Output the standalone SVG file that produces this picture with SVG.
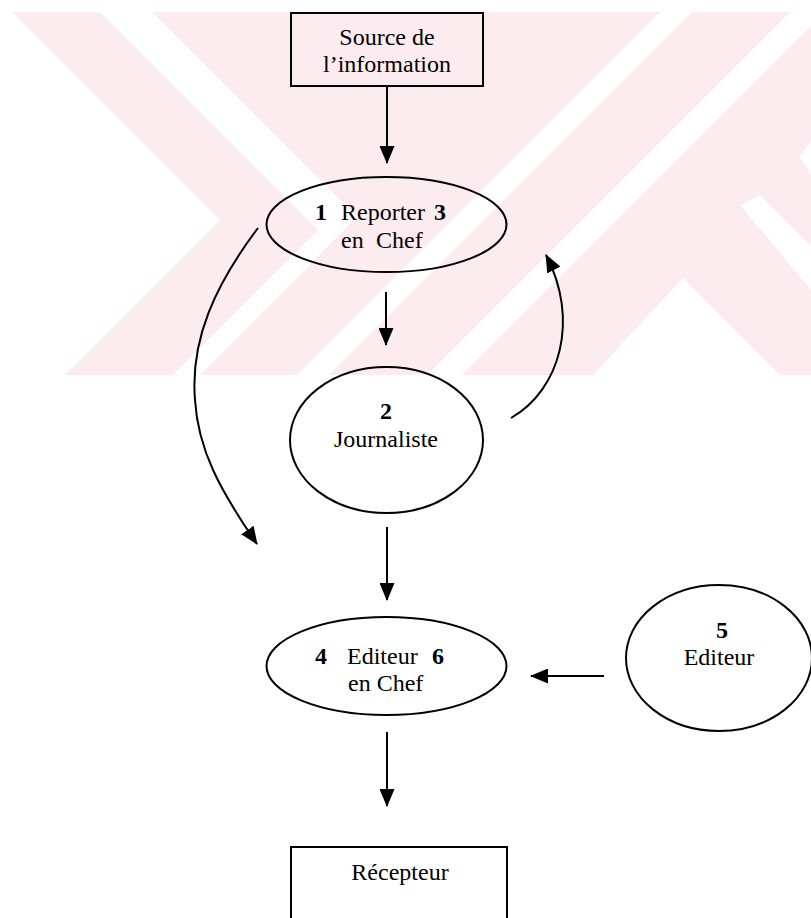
<svg xmlns="http://www.w3.org/2000/svg" width="811" height="918" viewBox="0 0 811 918">
  <defs>
    <marker id="arr" markerUnits="userSpaceOnUse" markerWidth="18" markerHeight="15" refX="17" refY="7.5" orient="auto">
      <path d="M0,0 L18,7.5 L0,15 z" fill="#000"/>
    </marker>
    <style>
      .shape { fill: none; stroke: #000; stroke-width: 2; }
      .conn { fill: none; stroke: #000; stroke-width: 2; marker-end: url(#arr); }
      .t { font-family: "Liberation Serif", "Times New Roman", serif; font-size: 24px; fill: #000; }
      .b { font-weight: bold; }
      .c { text-anchor: middle; }
      .wm { fill: #fdecef; }
      .wh { fill: #ffffff; }
    </style>
  </defs>
  <rect x="0" y="0" width="811" height="918" fill="#ffffff"/>
  <g id="watermark">
    <rect class="wm" x="0" y="12" width="811" height="363"/>
    <polygon class="wh" points="0,12 12,12 220,220 65,375 0,375"/>
    <polygon class="wh" points="100,12 152,12 357,217 200,375 173,375 318,230"/>
    <polygon class="wh" points="660,12 692,12 329,375 297,375"/>
    <polygon class="wh" points="811,12 811,26 462,375 427,375 790,12"/>
    <polygon class="wh" points="593,375 683,278 780,375"/>
    <polygon class="wh" points="740,205 760,195 811,246 811,290"/>
    <polygon class="wh" points="811,140 800,157 811,175"/>
  </g>
  <g id="connectors">
    <line class="conn" x1="387" y1="87" x2="387" y2="163"/>
    <line class="conn" x1="386" y1="292" x2="386" y2="345"/>
    <line class="conn" x1="387" y1="527" x2="387" y2="600"/>
    <line class="conn" x1="604" y1="676" x2="531" y2="676"/>
    <line class="conn" x1="387" y1="732" x2="387" y2="806"/>
    <path class="conn" d="M258,228 C215,285 190,340 195,400 C198,450 220,490 257,544"/>
    <path class="conn" d="M511,418 C560,390 580,320 546,255"/>
  </g>
  <g id="source">
    <rect class="shape" x="291" y="13" width="192" height="73"/>
    <text class="t c" x="387" y="45">Source de</text>
    <text class="t c" x="387" y="72">l’information</text>
  </g>
  <g id="reporter">
    <ellipse class="shape" cx="386.5" cy="224.5" rx="120" ry="47.5"/>
    <text class="t b" x="315" y="220">1</text>
    <text class="t" x="341" y="220">Reporter</text>
    <text class="t b" x="434" y="220">3</text>
    <text class="t" x="341" y="248">en</text>
    <text class="t" x="376" y="248">Chef</text>
  </g>
  <g id="journaliste">
    <ellipse class="shape" cx="386.5" cy="440" rx="96.5" ry="73"/>
    <text class="t b c" x="386" y="419">2</text>
    <text class="t c" x="386" y="447">Journaliste</text>
  </g>
  <g id="editeur-chef">
    <ellipse class="shape" cx="386.5" cy="666" rx="120" ry="49"/>
    <text class="t b" x="315" y="664">4</text>
    <text class="t" x="347" y="664">Editeur</text>
    <text class="t b" x="432" y="664">6</text>
    <text class="t" x="348" y="691">en Chef</text>
  </g>
  <g id="editeur">
    <ellipse class="shape" cx="719" cy="658" rx="93" ry="73"/>
    <text class="t b c" x="722" y="638">5</text>
    <text class="t c" x="719" y="665">Editeur</text>
  </g>
  <g id="recepteur">
    <rect class="shape" x="291" y="847" width="216" height="100"/>
    <text class="t c" x="400" y="880">Récepteur</text>
  </g>
</svg>
